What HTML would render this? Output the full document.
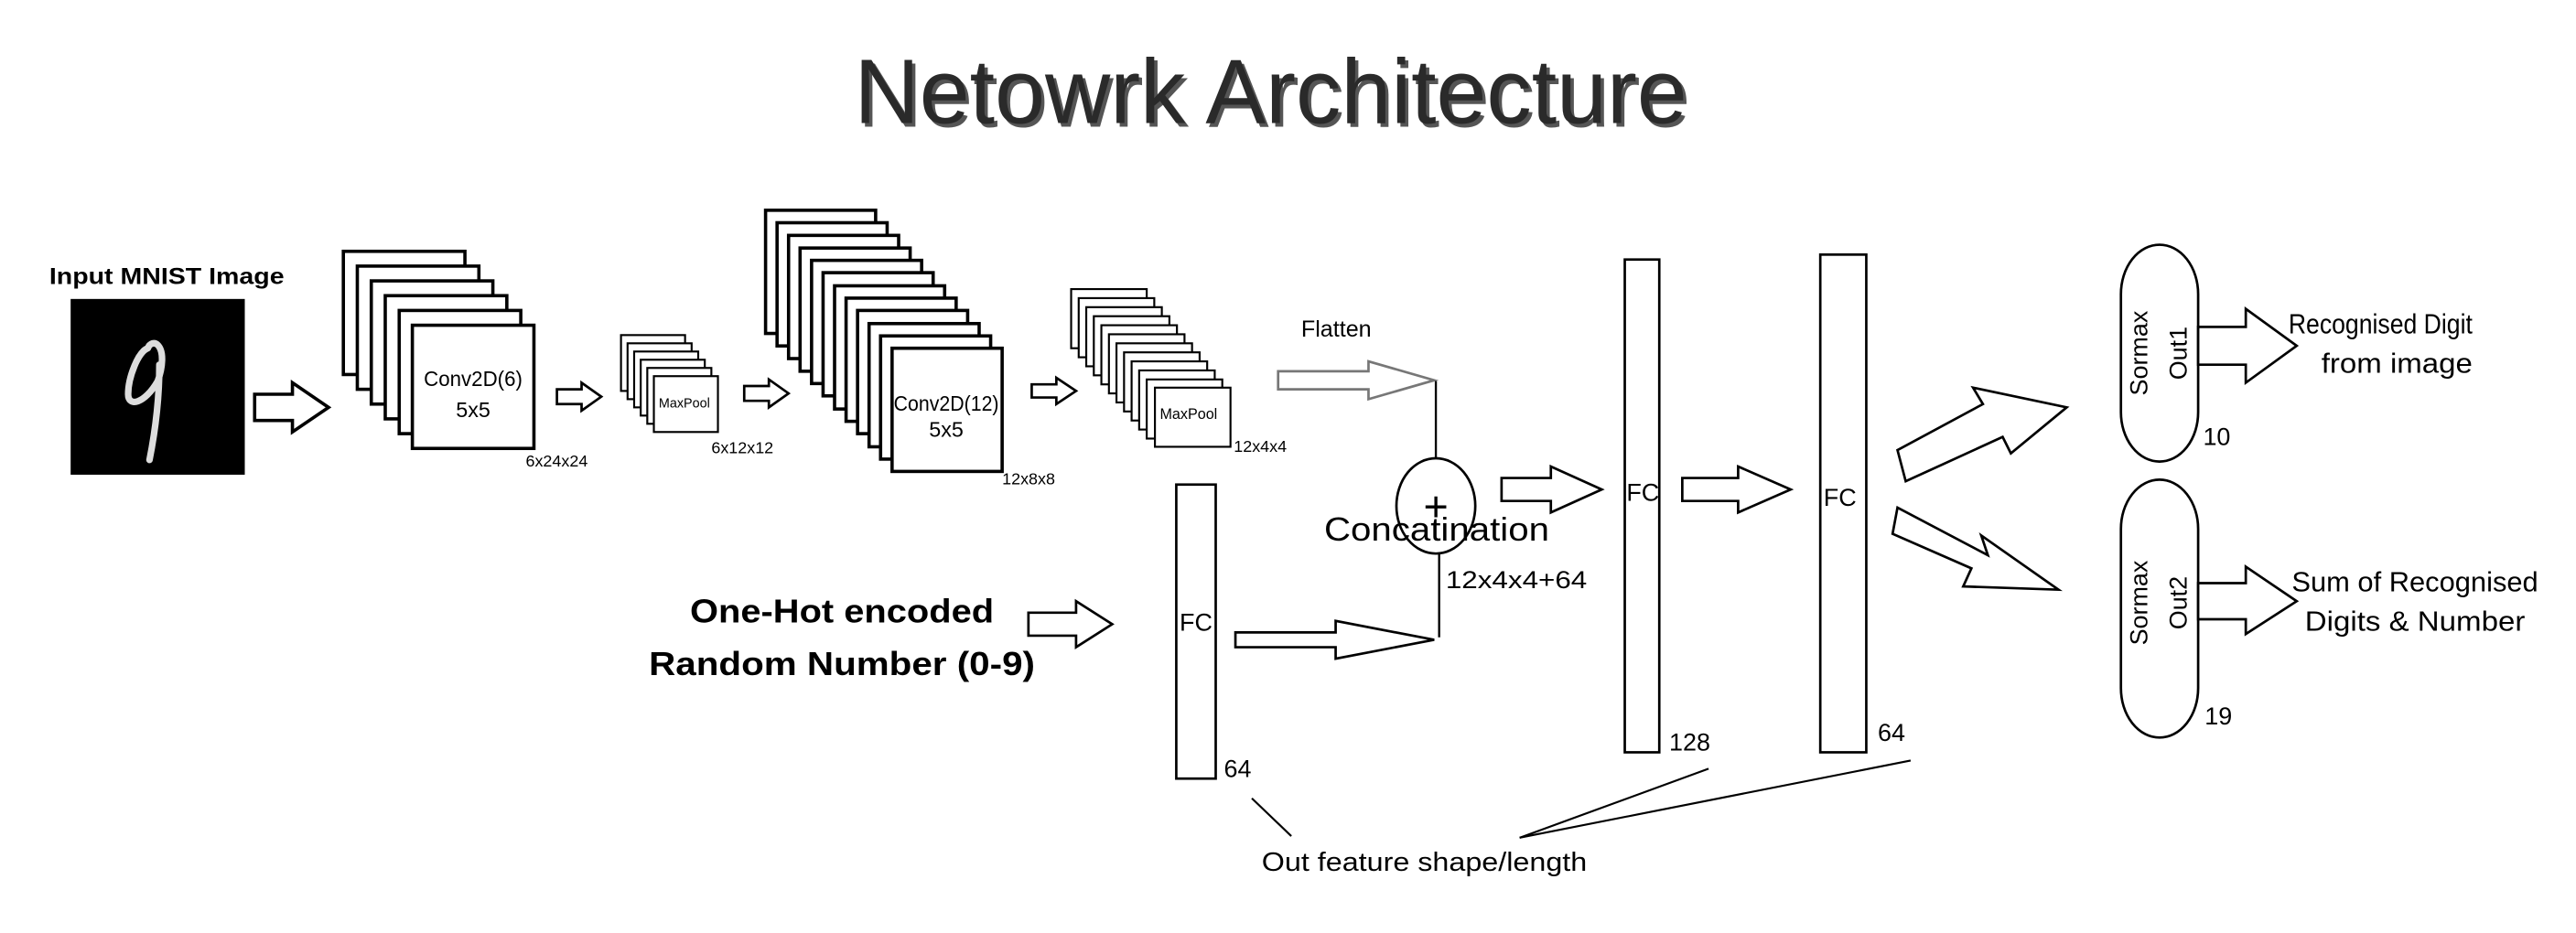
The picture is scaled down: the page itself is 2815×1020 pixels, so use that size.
<!DOCTYPE html>
<html><head><meta charset="utf-8"><style>
html,body{margin:0;padding:0;background:#fff;}
svg{display:block;}
text{font-family:"Liberation Sans",sans-serif;}
</style></head><body>
<svg width="2815" height="1020" viewBox="0 0 1568 568" preserveAspectRatio="none" xmlns="http://www.w3.org/2000/svg">
<rect width="1568" height="568" fill="#fff"/>
<text x="522" y="77" font-size="56" fill="#555" textLength="507" lengthAdjust="spacingAndGlyphs">Netowrk Architecture</text>
<text x="520" y="75" font-size="56" fill="#2a2a2a" textLength="507" lengthAdjust="spacingAndGlyphs">Netowrk Architecture</text>

<text x="30" y="173" font-size="14" font-weight="bold" textLength="143" lengthAdjust="spacingAndGlyphs">Input MNIST Image</text>
<rect x="43" y="182" width="106" height="107" fill="#000"/>
<path d="M90 212 C84 214 78 230 78 240 C78 248 88 246 96 232 C99 224 100 214 96 210 C94 208 91 209 90 212 M97 222 C97 240 95 260 91 280" stroke="#ddd" stroke-width="4" fill="none" stroke-linecap="round"/>

<g fill="#fff" stroke="#000" stroke-width="2">
<polygon points="155,240 178,240 178,233 200,248 178,263 178,256 155,256"/>
<rect x="209" y="153" width="74" height="75"/>
<rect x="217.5" y="162" width="74" height="75"/>
<rect x="226" y="171" width="74" height="75"/>
<rect x="234.5" y="180" width="74" height="75"/>
<rect x="243" y="189" width="74" height="75"/>
<rect x="251" y="198" width="74" height="75"/>
<polygon points="339,237 354,237 354,233 366,241.5 354,250 354,246 339,246" stroke-width="1.5"/>
<g stroke-width="1.2">
<rect x="378" y="204" width="39" height="34"/>
<rect x="382" y="209" width="39" height="34"/>
<rect x="386" y="214" width="39" height="34"/>
<rect x="390" y="219" width="39" height="34"/>
<rect x="394" y="224" width="39" height="34"/>
<rect x="398" y="229" width="39" height="34"/>
</g>
<polygon points="453,235 468,235 468,231 480,239.5 468,248 468,244 453,244" stroke-width="1.5"/>
<rect x="466" y="128" width="67" height="75"/>
<rect x="473" y="135.6" width="67" height="75"/>
<rect x="480" y="143.3" width="67" height="75"/>
<rect x="487" y="151" width="67" height="75"/>
<rect x="494" y="158.5" width="67" height="75"/>
<rect x="501" y="166" width="67" height="75"/>
<rect x="508" y="174" width="67" height="75"/>
<rect x="515" y="181.5" width="67" height="75"/>
<rect x="522" y="189" width="67" height="75"/>
<rect x="529" y="197" width="67" height="75"/>
<rect x="536" y="204.5" width="67" height="75"/>
<rect x="543" y="212" width="67" height="75"/>
<polygon points="628,234 643,234 643,230 655,238 643,246 643,242 628,242" stroke-width="1.5"/>
<g stroke-width="1.2">
<rect x="652" y="176" width="46" height="36"/>
<rect x="656.6" y="181.5" width="46" height="36"/>
<rect x="661.2" y="187" width="46" height="36"/>
<rect x="665.8" y="192.5" width="46" height="36"/>
<rect x="670.4" y="198" width="46" height="36"/>
<rect x="675" y="203.5" width="46" height="36"/>
<rect x="679.6" y="209" width="46" height="36"/>
<rect x="684.2" y="214.5" width="46" height="36"/>
<rect x="688.8" y="220" width="46" height="36"/>
<rect x="693.4" y="225.5" width="46" height="36"/>
<rect x="698" y="231" width="46" height="36"/>
<rect x="703" y="236" width="46" height="36"/>
</g>
<polygon points="778,226 833,226 833,220 873,231.5 833,243 833,237 778,237" stroke="#777" stroke-width="1.5"/>
<line x1="874" y1="232" x2="874" y2="282" stroke-width="1.3"/>
<ellipse cx="874" cy="308" rx="24" ry="29" stroke-width="1.5"/>
<line x1="876" y1="337" x2="876" y2="388" stroke-width="1.3"/>
<rect x="716" y="295" width="24" height="179" stroke-width="1.5"/>
<polygon points="626,373 655,373 655,366 677,380 655,394 655,387 626,387" stroke-width="1.5"/>
<polygon points="752,385 813,385 813,378 873,389.5 813,401 813,394 752,394" stroke-width="1.5"/>
<polygon points="914,291 944,291 944,284 975,298 944,312 944,305 914,305" stroke-width="1.5"/>
<rect x="989" y="158" width="21" height="300" stroke-width="1.5"/>
<polygon points="1024,291 1058,291 1058,284 1090,298 1058,312 1058,305 1024,305" stroke-width="1.5"/>
<rect x="1108" y="155" width="28" height="303" stroke-width="1.5"/>
<polygon points="1155,274 1207,246 1201,236 1258,248 1224,276 1219,266 1160,293" stroke-width="1.5"/>
<polygon points="1155,309 1210,338 1206,326 1253,359 1195,357 1200,346 1152,325" stroke-width="1.5"/>
<rect x="1291" y="149" width="47" height="132" rx="23.5" ry="30" stroke-width="1.5"/>
<rect x="1291" y="292" width="47" height="157" rx="23.5" ry="30" stroke-width="1.5"/>
<polygon points="1338,199 1367,199 1367,188 1398,210.5 1367,233 1367,222 1338,222" stroke-width="1.5"/>
<polygon points="1338,355 1367,355 1367,345 1398,366 1367,386 1367,377 1338,377" stroke-width="1.5"/>
</g>

<g stroke="#000" stroke-width="1.2">
<line x1="762" y1="486" x2="786" y2="509"/>
<line x1="925" y1="510" x2="1040" y2="468"/>
<line x1="925" y1="510" x2="1163" y2="463"/>
</g>

<g font-size="13" fill="#000" text-anchor="middle">
<text x="288" y="235" textLength="60" lengthAdjust="spacingAndGlyphs">Conv2D(6)</text>
<text x="288" y="254">5x5</text>
<text x="576" y="250" textLength="64" lengthAdjust="spacingAndGlyphs">Conv2D(12)</text>
<text x="576" y="266">5x5</text>
</g>
<g font-size="8" fill="#000">
<text x="401" y="248">MaxPool</text>
<text x="706" y="255" font-size="9">MaxPool</text>
</g>
<g font-size="10" fill="#000">
<text x="320" y="284">6x24x24</text>
<text x="433" y="276">6x12x12</text>
<text x="610" y="295">12x8x8</text>
<text x="751" y="275">12x4x4</text>
</g>
<text x="792" y="205" font-size="14">Flatten</text>
<text x="874" y="317" font-size="26" text-anchor="middle">+</text>
<text x="806" y="329" font-size="20" textLength="137" lengthAdjust="spacingAndGlyphs">Concatination</text>
<text x="880" y="358" font-size="15" textLength="86" lengthAdjust="spacingAndGlyphs">12x4x4+64</text>
<text x="420" y="379" font-size="20" font-weight="bold" textLength="185" lengthAdjust="spacingAndGlyphs">One-Hot encoded</text>
<text x="395" y="411" font-size="20" font-weight="bold" textLength="235" lengthAdjust="spacingAndGlyphs">Random Number (0-9)</text>
<g font-size="15" fill="#000">
<text x="718" y="384">FC</text>
<text x="745" y="473">64</text>
<text x="990" y="305">FC</text>
<text x="1016" y="457">128</text>
<text x="1110" y="308">FC</text>
<text x="1143" y="451">64</text>
<text x="1341" y="271">10</text>
<text x="1342" y="441">19</text>
</g>
<g font-size="15" text-anchor="middle">
<text transform="translate(1307,215) rotate(-90)">Sormax</text>
<text transform="translate(1331,215) rotate(-90)">Out1</text>
<text transform="translate(1307,367) rotate(-90)">Sormax</text>
<text transform="translate(1331,367) rotate(-90)">Out2</text>
</g>
<g font-size="17">
<text x="1393" y="203" textLength="112" lengthAdjust="spacingAndGlyphs">Recognised Digit</text>
<text x="1413" y="227" textLength="92" lengthAdjust="spacingAndGlyphs">from image</text>
<text x="1395" y="360" textLength="150" lengthAdjust="spacingAndGlyphs">Sum of Recognised</text>
<text x="1403" y="384" textLength="134" lengthAdjust="spacingAndGlyphs">Digits &amp; Number</text>
</g>
<text x="768" y="530" font-size="16" textLength="198" lengthAdjust="spacingAndGlyphs">Out feature shape/length</text>
</svg>
</body></html>
